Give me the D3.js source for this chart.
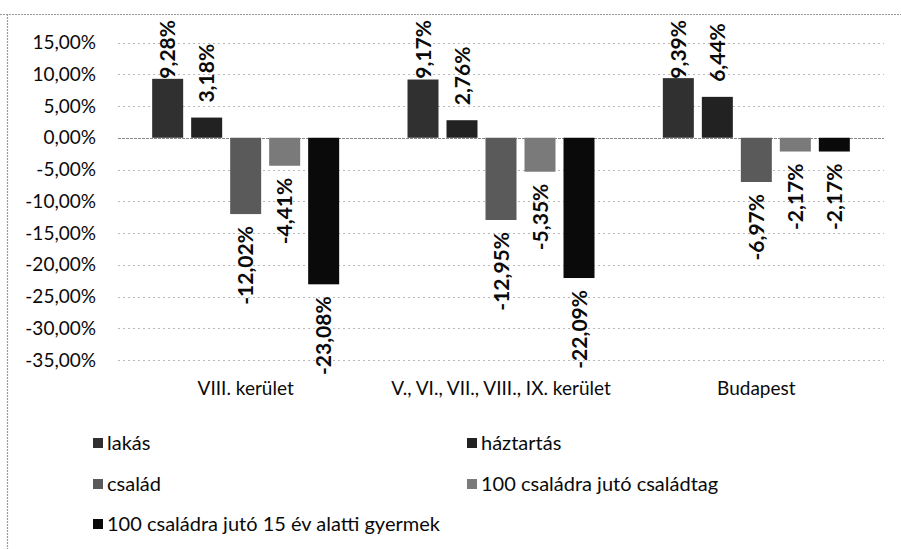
<!DOCTYPE html>
<html>
<head>
<meta charset="utf-8">
<script src="https://cdn.jsdelivr.net/npm/d3@7"></script>
<style>
  html, body { margin: 0; padding: 0; background: #fff; }
  svg { display: block; font-family: Lato, "Open Sans", sans-serif; }
</style>
</head>
<body>
<svg id="chart" width="901" height="549"></svg>
<script>
const categories = ["VIII. kerület", "V., VI., VII., VIII., IX. kerület", "Budapest"];
const seriesNames = ["lakás", "háztartás", "család", "100 családra jutó családtag", "100 családra jutó 15 év alatti gyermek"];
const lakas      = [9.28, 9.17, 9.39];
const haztartas  = [3.18, 2.76, 6.44];
const csalad     = [-12.02, -12.95, -6.97];
const csaladtag  = [-4.41, -5.35, -2.17];
const gyermek    = [-23.08, -22.09, -2.17];
const seriesValues = [lakas, haztartas, csalad, csaladtag, gyermek];
const yTicks = [15, 10, 5, 0, -5, -10, -15, -20, -25, -30, -35];
const colors = ["#303030", "#222222", "#5a5a5a", "#7a7a7a", "#0a0a0a"];

const svg = d3.select("#chart");
const fmt = v => v.toFixed(2).replace(".", ",") + "%";

// outer border (top and left only visible)
svg.append("line").attr("x1", 0).attr("x2", 901).attr("y1", 14.5).attr("y2", 14.5)
  .attr("stroke", "#9a9a9a").attr("stroke-width", 1.2).attr("stroke-dasharray", "2,1");
svg.append("line").attr("x1", 7.5).attr("x2", 7.5).attr("y1", 14).attr("y2", 549)
  .attr("stroke", "#9a9a9a").attr("stroke-width", 1.2).attr("stroke-dasharray", "2,1");

const y = d3.scaleLinear().domain([-35, 15]).range([360, 42.5]);
const x0 = d3.scaleBand().domain(categories).range([118, 884]).paddingInner(0).paddingOuter(0);
const step = 39, barW = 31;
const groupW = step * (seriesNames.length - 1) + barW;

// gridlines
svg.append("g").selectAll("line").data(yTicks).join("line")
  .attr("x1", 118).attr("x2", 884)
  .attr("y1", d => Math.round(y(d)) + 0.5).attr("y2", d => Math.round(y(d)) + 0.5)
  .attr("stroke", d => d === 0 ? "#8a8a8a" : "#b8b8b8")
  .attr("stroke-width", 1)
  .attr("stroke-dasharray", d => d === 0 ? "3,1" : "2,3");

// y axis labels
const yAxis = d3.axisLeft(y).tickValues(yTicks).tickSize(0).tickPadding(0)
  .tickFormat(d => fmt(d));
const gy = svg.append("g").attr("transform", "translate(96,0)").call(yAxis);
gy.select(".domain").remove();
gy.selectAll("text").attr("font-size", 19).attr("fill", "#0a0a0a")
  .attr("font-family", "Lato, sans-serif");

// x axis category labels
const xAxis = d3.axisBottom(x0).tickSize(0).tickPadding(0);
const gx = svg.append("g").attr("transform", "translate(0,381)").call(xAxis);
gx.select(".domain").remove();
gx.selectAll("text").attr("font-size", 19).attr("fill", "#0a0a0a")
  .attr("font-family", "Lato, sans-serif");

// bars
const bars = [];
seriesValues.forEach((vals, si) => {
  vals.forEach((v, ci) => {
    bars.push({ si, ci, v, x: x0(categories[ci]) + (x0.bandwidth() - groupW) / 2 + si * step });
  });
});
svg.append("g").selectAll("rect").data(bars).join("rect")
  .attr("x", d => d.x).attr("width", barW)
  .attr("y", d => y(Math.max(0, d.v)))
  .attr("height", d => Math.abs(y(d.v) - y(0)))
  .attr("fill", d => colors[d.si]);

// data labels
const lg = svg.append("g");
bars.forEach(d => {
  const cx = d.x + barW / 2;
  const t = lg.append("text")
    .attr("font-size", 21).attr("font-weight", "bold").attr("fill", "#0a0a0a")
    .attr("font-family", "Lato, sans-serif")
    .attr("dy", "0.36em")
    .text(fmt(d.v));
  const len = t.node().getComputedTextLength();
  let anchorY, anchor;
  if (d.v >= 0) {
    anchorY = y(d.v) - 15;
    if (anchorY - len < 20) anchorY = 20 + len;
    anchor = "start";
  } else {
    anchorY = y(d.v) + 12;
    anchor = "end";
  }
  t.attr("text-anchor", anchor)
   .attr("transform", `translate(${cx},${anchorY}) rotate(-90)`);
});

// legend
const legendPos = [[93, 443], [467, 443], [93, 484], [467, 484], [93, 524]];
const leg = svg.append("g");
seriesNames.forEach((name, i) => {
  const [lx, ly] = legendPos[i];
  leg.append("rect").attr("x", lx).attr("y", ly - 5).attr("width", 10).attr("height", 10)
    .attr("fill", colors[i]);
  leg.append("text").attr("x", lx + 14).attr("y", ly).attr("dy", "0.35em")
    .attr("font-size", 20).attr("fill", "#0a0a0a").attr("font-family", "Lato, sans-serif")
    .text(name);
});
</script>
</body>
</html>
